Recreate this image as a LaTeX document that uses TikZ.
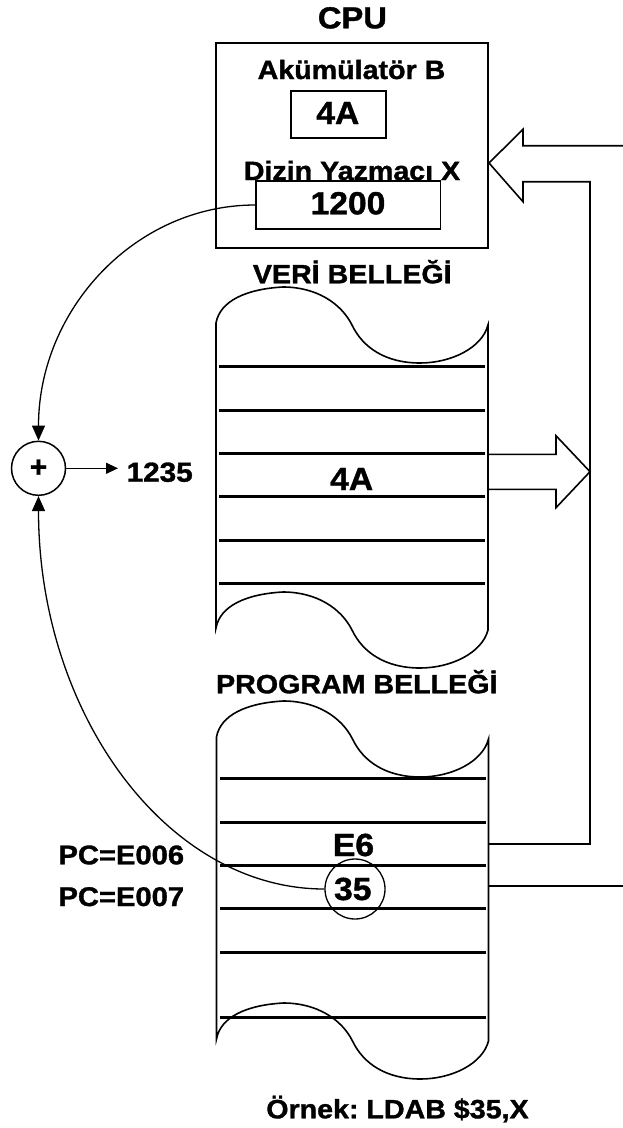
\documentclass[tikz,border=0pt]{standalone}
\usepackage{fontspec}
\setmainfont{Liberation Sans}[BoldFeatures={FakeBold=1.2}]
\usetikzlibrary{arrows.meta}
\frenchspacing
\newcommand\sx[1]{\scalebox{1.08}[1]{#1}}
\newcommand\sv[1]{\scalebox{1.05}[1]{#1}}
\newcommand\memshape[3]{%
 \draw[outl] (#1,#2) .. controls (#1+4,#2-22) and (#1+30,#2-34) .. (#1+67,#2-36)
   .. controls (#1+100,#2-36) and (#1+125,#2-20) .. (#1+136,#2+2)
   .. controls (#1+147,#2+25) and (#1+170,#2+40) .. (#1+204,#2+40)
   .. controls (#1+235,#2+40) and (#1+266,#2+25) .. (#1+272,#2+2)
   -- (#1+272,#3+2)
   .. controls (#1+266,#3+25) and (#1+235,#3+40) .. (#1+204,#3+40)
   .. controls (#1+170,#3+40) and (#1+147,#3+25) .. (#1+136,#3+2)
   .. controls (#1+125,#3-20) and (#1+100,#3-36) .. (#1+67,#3-36)
   .. controls (#1+30,#3-34) and (#1+4,#3-22) .. (#1,#3) -- cycle;}
\begin{document}
\begin{tikzpicture}[x=1pt,y=-1pt,
  lab/.style={anchor=base, inner sep=0pt, font=\fontsize{26.5}{30}\selectfont\bfseries},
  val/.style={anchor=base, inner sep=0pt, font=\fontsize{32}{36}\selectfont\bfseries},
  box/.style={draw, line width=1.6pt, inner sep=0pt},
  cell/.style={line width=2.6pt},
  outl/.style={line width=1.6pt, line join=miter},
  link/.style={line width=1.3pt, -{Triangle[length=15pt,width=13pt]}},
]
\useasboundingbox (0,0) rectangle (623,1128);

% CPU
\node[lab, font=\fontsize{30.3}{34}\selectfont\bfseries] (cpulab) at (352.4,28.3) {\sx{CPU}};
\node[box, minimum width=272pt, minimum height=205pt] (cpu) at (352,145.5) {};
\node[lab] (acclab) at (351.5,79) {\sx{Akümülatör B}};
\node[box, minimum width=95.3pt, minimum height=47pt] (accbox) at (338.4,114.2) {};
\node[val] (accval) at (337.8,124) {\sv{4A}};
\node[lab] (ixlab) at (352,180) {\sx{Dizin Yazmacı X}};
\node[box, minimum width=184.7pt, minimum height=48pt] (ixbox) at (348.3,205) {};
\node[val] (ixval) at (348,214.3) {\sv{1200}};

% data memory
\node[lab] (verilab) at (352.3,283.3) {\sx{VERİ BELLEĞİ}};
\memshape{216}{323}{628}
\foreach \y in {366.7,410.7,453.3,496.7,540.7,583.3} \draw[cell] (219,\y) -- (485,\y);
\node[val] (veri4a) at (351.7,490) {\sv{4A}};

% program memory
\node[lab] (proglab) at (356.8,693.3) {\sx{PROGRAM BELLEĞİ}};
\memshape{216.5}{737}{1039}
\foreach \y in {778.3,822.3,865.7,908.3,952.3,1017.3} \draw[cell] (220,\y) -- (485.7,\y);
\node[val] (e6) at (353.5,856) {\sv{E6}};
\node[circle, draw, line width=1.3pt, minimum size=60pt, inner sep=0pt] (c35) at (355,889) {};
\node[val] (v35) at (352.8,900) {\sv{35}};
\node[lab, font=\fontsize{27}{30}\selectfont\bfseries] (pc6) at (121.3,864.3) {\sx{PC=E006}};
\node[lab, font=\fontsize{27}{30}\selectfont\bfseries] (pc7) at (121.3,906) {\sx{PC=E007}};
\node[lab] (ex) at (397.5,1118.3) {\sx{Örnek: LDAB \$35,X}};

% adder
\node[circle, draw, line width=1.5pt, minimum size=54pt, inner sep=0pt, font=\fontsize{30}{32}\selectfont\bfseries] (plus) at (38.5,468.3) {+};
\coordinate (t1235) at (118,468.3);
\draw[line width=1.3pt, -{Triangle[length=12pt,width=11pt]}] (plus) -- (t1235);
\node[lab, font=\fontsize{27.5}{30}\selectfont\bfseries] (r1235) at (159.7,481.7) {\sx{1235}};

\draw[link] (ixbox.west) .. controls +(-120,0) and +(0,-131) .. (plus.north);
\draw[link] (c35.west) .. controls +(-158,0) and +(0,217) .. (plus.south);

% wide arrows
\draw[outl] (623,145.7) -- (523,145.7) -- (523,129.3) -- (489,163) -- (523,201.7) -- (523,181.7) -- (590,181.7) -- (590,844) -- (488.5,844);
\draw[outl] (488.5,886) -- (623,886);
\draw[outl] (488,454.3) -- (556,454.3) -- (556,435.7) -- (590,471.7) -- (556,507.7) -- (556,489.3) -- (488,489.3);
\end{tikzpicture}
\end{document}
